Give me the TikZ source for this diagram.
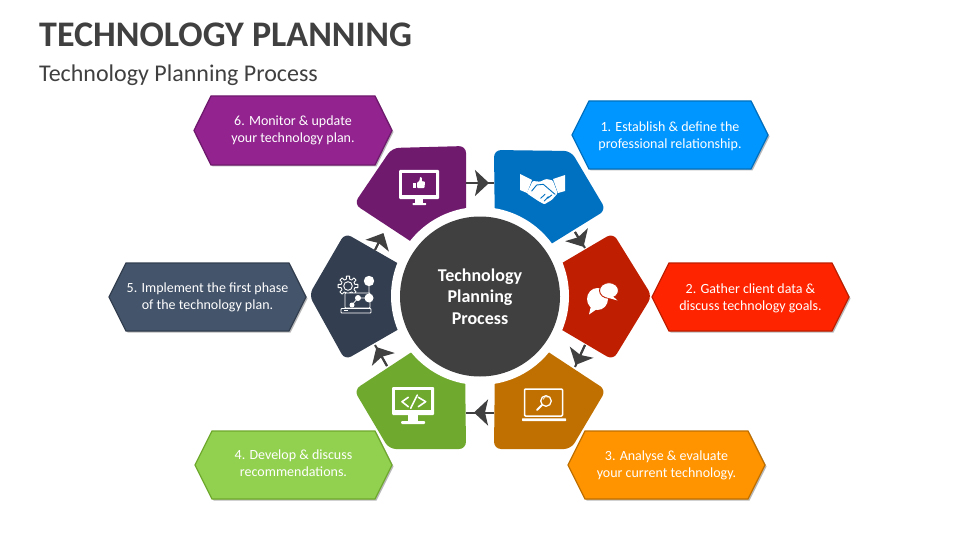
\documentclass[tikz,border=0pt]{standalone}
\usepackage{fontspec}
\setmainfont{Carlito}
\usetikzlibrary{arrows.meta,shadows,calc}
\definecolor{ink}{HTML}{404040}
\definecolor{cBlueD}{HTML}{0070C0}\definecolor{cBlueL}{HTML}{0096FF}
\definecolor{cRedD}{HTML}{BF1E00}\definecolor{cRedL}{HTML}{FF2400}
\definecolor{cOrD}{HTML}{C07000}\definecolor{cOrL}{HTML}{FF9300}
\definecolor{cGrD}{HTML}{6FA92D}\definecolor{cGrL}{HTML}{92D050}
\definecolor{cSlD}{HTML}{333F50}\definecolor{cSlL}{HTML}{44546A}
\definecolor{cPuD}{HTML}{701A6E}\definecolor{cPuL}{HTML}{92238F}
\tikzset{
  x=1pt,y=-1pt,
  hexbox/.style={line width=1.3pt,line join=miter,
    drop shadow={shadow xshift=1.5pt,shadow yshift=-1.5pt,opacity=.28,fill=black}},
  hextext/.style={text=white,align=center,font=\fontsize{14}{17}\selectfont,inner sep=0pt},
  link/.style={draw=ink,line width=2pt},
  linkhead/.style={draw=ink,line width=2pt,-{Stealth[length=14pt,width=26pt,inset=3pt,fill=ink]},shorten >=-1pt},
  ico/.style={draw=white,fill=none,line cap=round,line join=round},
}
% name, left, right, top, bottom, fill, line, text offset, text
\newcommand{\hexlabel}[9]{%
  \path[hexbox,fill=#6,draw=#7] (#2,{(#4+#5)/2}) -- (#2+17,#4) -- (#3-17,#4) -- (#3,{(#4+#5)/2}) -- (#3-17,#5) -- (#2+17,#5) -- cycle;
  \node[hextext] (#1) at ({(#2+#3)/2},{(#4+#5)/2+#8}) {#9};}
\newcommand{\arrowlink}[3]{%
  \draw[link] (#1) -- (#3);
  \draw[linkhead] (#1) -- (#2);}
\begin{document}
\begin{tikzpicture}
\useasboundingbox (0,0) rectangle (960,540);
\fill[white] (0,0) rectangle (960,540);

\node[anchor=west,text=ink,inner sep=0pt,font=\fontsize{36}{40}\selectfont\bfseries] (title) at (39,35) {TECHNOLOGY PLANNING};
\node[anchor=west,text=ink,inner sep=0pt,font=\fontsize{24}{28}\selectfont] (subtitle) at (39,75.5) {Technology Planning Process};

% pentagons: each outline starts and ends under the white ring, so only the outer corners are rounded
\fill[cPuD] (466,240) [rounded corners=7pt] -- (466,146) -- (392,148) -- (354,204) [sharp corners] -- (430,254) -- cycle;
\fill[cBlueD] (530,257) [rounded corners=7pt] -- (606,210) -- (571,151) -- (494,150) [sharp corners] -- (495,240) -- cycle;
\fill[cRedD] (540,276) [rounded corners=7pt] -- (613,233) -- (652,296) -- (613,360) [sharp corners] -- (540,317) -- cycle;
\fill[cOrD] (530,340) [rounded corners=7pt] -- (606,390) -- (571,449) -- (494,449) [sharp corners] -- (495,360) -- cycle;
\fill[cGrD] (430,340) [rounded corners=7pt] -- (354,390) -- (389,449) -- (466,449) [sharp corners] -- (465,360) -- cycle;
\fill[cSlD] (420,276) [rounded corners=7pt] -- (345,233) -- (309,295) -- (345,360) [sharp corners] -- (420,317) -- cycle;

% centre
\fill[white] (480,296) circle[radius=89];
\node[circle,fill=ink,minimum size=160pt,inner sep=0pt,text=white,align=center,font=\fontsize{18}{21.5}\selectfont\bfseries] (hub) at (480,296.5) {Technology\\Planning\\Process};

% connectors
\coordinate (a1) at (466,183); \coordinate (m1) at (488,183); \coordinate (b1) at (494,183);
\coordinate (a2) at (575,232); \coordinate (m2) at (583,246); \coordinate (b2) at (585,248);
\coordinate (a3) at (585,345); \coordinate (m3) at (576,364); \coordinate (b3) at (575,367);
\coordinate (a4) at (494,412.5); \coordinate (m4) at (475,412.5); \coordinate (b4) at (466,412.5);
\coordinate (a5) at (387,366); \coordinate (m5) at (377,348); \coordinate (b5) at (375,345);
\coordinate (a6) at (375,250); \coordinate (m6) at (383,234); \coordinate (b6) at (383,234);
\arrowlink{a1}{m1}{b1}
\arrowlink{a2}{m2}{b2}
\arrowlink{a3}{m3}{b3}
\arrowlink{a4}{m4}{b4}
\arrowlink{a5}{m5}{b5}
\arrowlink{a6}{m6}{b6}

% labels
\hexlabel{l1}{572}{768}{101}{169}{cBlueL}{cBlueD}{1}{1. Establish \& define the\\professional relationship.}
\hexlabel{l2}{652}{849}{263}{331}{cRedL}{cRedD}{1}{2. Gather client data \&\\discuss technology goals.}
\hexlabel{l3}{568}{765}{431}{499}{cOrL}{cOrD}{.5}{3. Analyse \& evaluate\\your current technology.}
\hexlabel{l4}{195}{392}{431}{499}{cGrL}{cGrD}{-1.5}{4. Develop \& discuss\\recommendations.}
\hexlabel{l5}{109}{306}{263}{331}{cSlL}{cSlD}{.5}{5. Implement the first phase\\of the technology plan.}
\hexlabel{l6}{194}{392}{96}{165}{cPuL}{cPuD}{-.5}{6. Monitor \& update\\your technology plan.}

% icon 6: monitor with thumb
\fill[white,rounded corners=1pt] (399,170) rectangle (439,199);
\fill[cPuD] (402,173) rectangle (436,195);
\fill[white] (415,199) rectangle (423,204);
\fill[white,rounded corners=.5pt] (412.5,203) rectangle (426,205);
\fill[white] (413,182.5) rectangle (416,188);
\fill[white,rounded corners=.8pt] (417,182.5) -- (419.5,181) -- (420,176.8) -- (421.8,177.5) -- (421.8,181.5) -- (425,181.5) -- (424.5,188) -- (417,188) -- cycle;

% icon 1: handshake
\fill[white] (520,174) -- (532,180) -- (527,193) -- (520,190) -- cycle;
\fill[white] (565,175) -- (553,179) -- (558,193) -- (565,191) -- cycle;
\fill[white,rounded corners=1pt] (532.7,181) -- (540,181.7) -- (546,179) -- (552.7,180.3) -- (557.7,193.3) -- (551.7,200) -- (544.3,204.3) -- (538.3,201) -- (526.7,193.3) -- cycle;
\draw[cBlueD,line width=.9pt,line cap=round] (531.7,191) -- (536.7,185) -- (543.3,184.3) -- (555,194.3);
\draw[cBlueD,line width=.9pt,line cap=round] (540.7,198.3) -- (545,194.3) (544.3,201) -- (548.3,196.7) (547.7,198.3) -- (551.7,195);

% icon 2: chat bubbles
\fill[white] (597.5,299) ellipse[x radius=10.5,y radius=11];
\fill[white] (591,306) -- (589,314.5) -- (597,309) -- cycle;
\path[fill=white,draw=cRedD,line width=.9pt] (609,290.5) ellipse[x radius=9.5,y radius=7.8];
\fill[white] (612.5,296) -- (617.5,300.5) -- (607,297.5) -- cycle;

% icon 3: laptop with magnifier
\draw[ico,line width=1.5pt,rounded corners=1pt] (524.5,389) rectangle (562.5,416);
\fill[white,rounded corners=.5pt] (522,418.3) rectangle (566,421);
\draw[ico,line width=1.3pt] (546,401) circle[radius=5.3];
\draw[ico,line width=2pt] (542,405) -- (537,410);
\draw[white,line width=.6pt] (543,399.5) arc[start angle=190,end angle=300,radius=3.5];

% icon 4: code monitor
\fill[white,rounded corners=1pt] (392,387) rectangle (434,415);
\fill[cGrD] (395,390) rectangle (431,410);
\fill[white] (408,415) rectangle (418,421);
\fill[white,rounded corners=1pt] (401,421) rectangle (425,424);
\draw[ico,line width=1.6pt] (408.3,397.3) -- (402,401.7) -- (408.3,406.7);
\draw[ico,line width=1.6pt] (417.3,395) -- (410.7,408.3);
\draw[ico,line width=1.6pt] (418.3,397.3) -- (425.7,401.7) -- (418.3,406.7);

% icon 5: gear, laptop, network
\coordinate (gc) at (348,286);
\draw[white,line width=.9pt,line join=round] ($(gc)+(-14:7)$)
  \foreach \t in {0,45,...,315}{ -- ($(gc)+(\t-14:7)$) -- ($(gc)+(\t-9:10)$) -- ($(gc)+(\t+9:10)$) -- ($(gc)+(\t+14:7)$) } -- cycle;
\draw[white,line width=.9pt] (gc) circle[radius=4.3];
\path[fill=cSlD,draw=white,line width=.9pt,rounded corners=.8pt] (345,293) rectangle (370,308);
\path[fill=cSlD,draw=white,line width=.9pt,rounded corners=.8pt] (341,308.5) rectangle (371,313);
\fill[white] (344,310) rectangle (348,311);
\draw[white,line width=.8pt] (352,305) -- (358,298) -- (369,298) -- (369,281);
\fill[white] (369,281) circle[radius=5.2];
\fill[white] (369,298) circle[radius=4.5];
\fill[white] (358,298) circle[radius=3];
\fill[white] (352,305) circle[radius=2.5];
\end{tikzpicture}
\end{document}
